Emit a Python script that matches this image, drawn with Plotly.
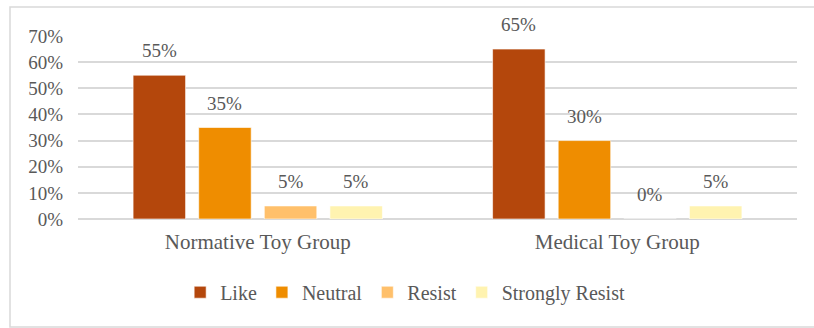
import plotly.graph_objects as go

groups = ["Normative Toy Group", "Medical Toy Group"]
series = ["Like", "Neutral", "Resist", "Strongly Resist"]
like = [0.55, 0.65]
neutral = [0.35, 0.30]
resist = [0.05, 0.00]
strongly_resist = [0.05, 0.05]
colors = ["#B4470C", "#EF8D00", "#FFC06B", "#FFF3B0"]
y_ticks = [0, 0.1, 0.2, 0.3, 0.4, 0.5, 0.6, 0.7]

values = [like, neutral, resist, strongly_resist]

FONT = "Liberation Serif"
GREY = "#595959"
BARGAP = 0.27
GROUPGAP = 0.2

fig = go.Figure()
for name, vals, col in zip(series, values, colors):
    fig.add_trace(go.Bar(
        x=groups, y=vals, name=name,
        marker=dict(color=col, line=dict(color="rgba(255,255,255,0.6)", width=1)),
    ))

# value labels placed above each bar, positions follow the grouped-bar layout
n = len(series)
slot = (1 - BARGAP) / n
for i, vals in enumerate(values):
    for j, v in enumerate(vals):
        xc = j - (1 - BARGAP) / 2 + (i + 0.5) * slot
        fig.add_annotation(
            x=xc, y=v, xref="x", yref="y", text=f"{v:.0%}",
            showarrow=False, yanchor="bottom", yshift=12,
            font=dict(family=FONT, size=19, color=GREY),
        )

# outer frame (runs past the right edge of the page)
fig.add_shape(type="rect", xref="paper", yref="paper",
              x0=(10 - 78) / 719, x1=(818 - 78) / 719,
              y0=(219 - 327) / 183, y1=(219 - 7) / 183,
              line=dict(color="#D9D9D9", width=1.5), layer="below")

fig.update_layout(
    width=814, height=328,
    margin=dict(l=78, r=17, t=36, b=109),
    paper_bgcolor="white", plot_bgcolor="white",
    barmode="group", bargap=BARGAP, bargroupgap=GROUPGAP,
    font=dict(family=FONT, color=GREY),
    showlegend=True,
    legend=dict(orientation="h", x=0.455, xanchor="center", y=-0.4, yanchor="middle",
                font=dict(family=FONT, size=20, color=GREY),
                itemwidth=30, traceorder="normal"),
    xaxis=dict(showgrid=False, showline=False, ticks="", ticklabelstandoff=8,
               tickfont=dict(family=FONT, size=21, color=GREY)),
    yaxis=dict(range=[0, 0.7], tickvals=y_ticks, tickformat=".0%",
               showgrid=True, gridcolor="#D9D9D9", gridwidth=1.5,
               zeroline=True, zerolinecolor="#D9D9D9", zerolinewidth=1.5,
               showline=False, ticks="", ticklabelstandoff=14,
               tickfont=dict(family=FONT, size=19, color=GREY)),
)

fig.write_html("out.html")
